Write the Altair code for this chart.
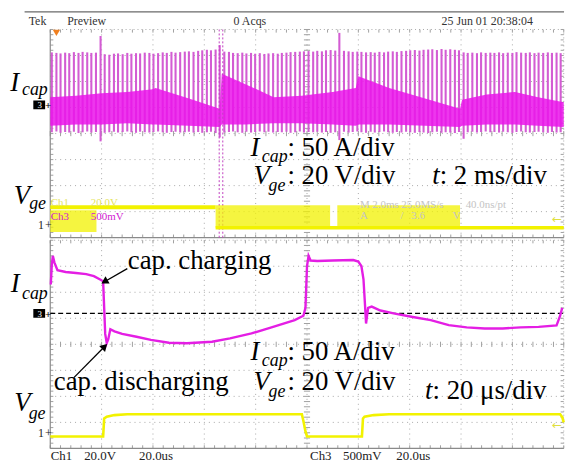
import math
import altair as alt
import pandas as pd

# ---------------- DATA (graticule divisions; y counted downward from each panel's top edge) ----------------
# Top panel, 2 ms/div: I_cap switching spikes
spike_x = [0.03, 0.12, 0.20, 0.29, 0.37, 0.46, 0.55, 0.63, 0.72, 0.80,
           0.89, 0.98, 1.06, 1.15, 1.24, 1.32, 1.41, 1.50, 1.58, 1.67,
           1.75, 1.84, 1.93, 2.01, 2.10, 2.19, 2.27, 2.36, 2.44, 2.53,
           2.62, 2.70, 2.79, 2.88, 2.96, 3.05, 3.13, 3.22, 3.30, 3.39,
           3.48, 3.56, 3.65, 3.74, 3.82, 3.91, 3.99, 4.08, 4.17, 4.25,
           4.34, 4.43, 4.51, 4.60, 4.68, 4.77, 4.86, 4.94, 5.03, 5.12,
           5.20, 5.29, 5.37, 5.46, 5.55, 5.63, 5.72, 5.81, 5.89, 5.98,
           6.06, 6.15, 6.24, 6.32, 6.41, 6.50, 6.58, 6.67, 6.75, 6.84,
           6.93, 7.01, 7.10, 7.19, 7.27, 7.36, 7.44, 7.53, 7.62, 7.70,
           7.79, 7.88, 7.96, 8.05, 8.13, 8.22, 8.31, 8.39, 8.48, 8.57,
           8.65, 8.74, 8.82, 8.91, 9.00, 9.08, 9.17, 9.26, 9.34, 9.43,
           9.51, 9.60, 9.69, 9.77, 9.86, 9.94]
spike_top = [0.88, 0.90, 0.92, 0.89, 0.91, 0.87, 0.90, 0.86, 0.88, 0.90,
             0.89, 0.25, 0.95, 0.97, 0.93, 0.92, 0.95, 0.90, 0.93, 0.91,
             0.92, 0.89, 0.90, 0.93, 0.91, 0.88, 0.90, 0.86, 0.89, 0.87,
             0.85, 0.84, 0.86, 0.82, 0.80, 0.78, 0.80, 0.77, 0.60, 0.85,
             0.86, 0.90, 0.91, 0.89, 0.92, 0.90, 0.93, 0.91, 0.94, 0.92,
             0.91, 0.93, 0.90, 0.89, 0.87, 0.86, 0.85, 0.84, 0.83, 0.85,
             0.82, 0.84, 0.80, 0.79, 0.81, 0.13, 0.82, 0.84, 0.86, 0.85,
             0.86, 0.88, 0.87, 0.89, 0.86, 0.88, 0.85, 0.84, 0.86, 0.83,
             0.82, 0.80, 0.79, 0.81, 0.78, 0.77, 0.76, 0.79, 0.75, 0.78,
             0.76, 0.78, 0.80, 0.88, 0.90, 0.89, 0.91, 0.88, 0.90, 0.89,
             0.90, 0.88, 0.91, 0.89, 0.90, 0.87, 0.89, 0.90, 0.88, 0.91,
             0.89, 0.90, 0.88, 0.90, 0.89, 0.91]
spike_bot = [3.95, 3.92, 3.97, 3.94, 3.96, 3.93, 3.98, 3.95, 3.92, 3.96,
             3.94, 4.30, 3.97, 3.95, 3.93, 3.96, 3.94, 3.92, 3.95, 3.97,
             3.93, 3.95, 3.96, 3.94, 3.92, 3.95, 3.97, 3.94, 3.93, 3.96,
             3.95, 3.93, 3.96, 3.94, 3.97, 3.95, 3.93, 3.98, 4.15, 3.96,
             3.94, 3.92, 3.95, 3.97, 3.93, 3.96, 3.94, 3.92, 3.95, 3.93,
             3.96, 3.94, 3.95, 3.93, 3.97, 3.95, 3.92, 3.96, 3.94, 3.95,
             3.93, 3.96, 3.94, 3.97, 3.95, 4.25, 3.93, 3.96, 3.94, 3.92,
             3.95, 3.97, 3.93, 3.96, 3.94, 3.92, 3.95, 3.97, 3.94, 3.96,
             3.93, 3.95, 3.97, 3.94, 3.96, 3.98, 3.95, 3.93, 3.97, 3.95,
             3.96, 3.98, 3.94, 4.20, 3.95, 3.93, 3.96, 3.94, 3.92, 3.95,
             3.94, 3.96, 3.93, 3.95, 3.97, 3.94, 3.92, 3.95, 3.96, 3.94,
             3.93, 3.95, 3.97, 3.94, 3.96, 3.95]

# Top panel: bright dense core of the I_cap trace
band_x = [0.0, 0.5, 1.0, 1.5, 2.0, 2.05, 2.7, 3.3, 3.34, 3.8, 4.35, 4.9, 5.5, 5.95, 6.0,
          6.6, 7.3, 7.98, 8.02, 8.5, 9.05, 9.5, 10.0]
band_hi = [2.6, 2.55, 2.45, 2.4, 2.3, 2.25, 2.65, 3.05, 1.7, 2.1, 2.6, 2.55, 2.4, 2.25, 1.8,
           2.25, 2.65, 3.05, 2.7, 2.5, 2.4, 2.6, 2.8]
band_lo = [3.7, 3.65, 3.65, 3.6, 3.65, 3.65, 3.7, 3.75, 3.65, 3.65, 3.6, 3.6, 3.65, 3.7, 3.65,
           3.65, 3.7, 3.75, 3.7, 3.65, 3.65, 3.7, 3.75]
cursor_x = [3.29, 3.36]

# Top panel: V_ge
vge_high_span = [0.0, 3.22]
vge_high_level = 6.83
vge_low_span = [3.22, 10.0]
vge_low_level = 7.62
burst_start = [0.0, 3.22, 5.59]
burst_end = [0.9, 5.45, 7.98]
burst_top = [6.95, 6.75, 6.75]
burst_bot = [7.78, 7.62, 7.62]

# Bottom panel, 20 us/div: I_cap
icap_x = [0.01, 0.03, 0.05, 0.08, 0.14, 0.3, 0.5, 0.7, 0.85, 0.98,
          1.03, 1.05, 1.07, 1.10, 1.13, 1.17, 1.25, 1.4, 1.68, 1.96,
          2.31, 2.66, 3.15, 3.5, 3.92, 4.34, 4.76, 4.93, 4.97, 5.0,
          5.03, 5.07, 5.2, 5.5, 5.9, 6.0, 6.06, 6.10, 6.13, 6.15,
          6.19, 6.26, 6.43, 6.71, 7.06, 7.41, 7.76, 8.11, 8.46, 8.81,
          9.16, 9.51, 9.86, 9.93, 9.97]
icap_y = [1.70, 0.95, 0.60, 0.85, 1.15, 1.22, 1.26, 1.30, 1.38, 1.52,
          1.58, 2.6, 3.6, 3.95, 3.8, 3.42, 3.5, 3.6, 3.71, 3.83,
          3.94, 3.96, 3.9, 3.77, 3.58, 3.33, 3.07, 2.9, 2.6, 1.0,
          0.6, 0.78, 0.8, 0.78, 0.76, 0.82, 1.0, 1.5, 2.5, 3.2,
          2.6, 2.55, 2.7, 2.82, 2.95, 3.07, 3.26, 3.35, 3.39, 3.39,
          3.35, 3.33, 3.27, 2.9, 2.6]
ground_level = 2.81

# Bottom panel: V_ge
vge2_x = [0.0, 1.03, 1.05, 1.1, 1.25, 1.5, 4.9, 4.93, 4.97, 5.0, 6.07, 6.09, 6.12, 6.3, 6.6,
          9.93, 9.97, 10.0]
vge2_y = [7.54, 7.54, 6.85, 6.78, 6.72, 6.69, 6.69, 6.95, 7.35, 7.54, 7.54, 6.85, 6.78, 6.72,
          6.69, 6.69, 6.8, 7.0]

# annotation arrows (bottom panel): tail -> tip
arrow_tail_x = [1.50, 0.46]
arrow_tail_y = [1.09, 5.28]
arrow_tip_x = [0.98, 1.12]
arrow_tip_y = [1.68, 3.96]

# ---------------- LAYOUT ----------------
PXX, PXY = 51.8, 26.25                       # pixels per division
XDOM = [-50.7 / PXX, (569 - 50.7) / PXX]
TOP_H, BOT_H = 238, 224
TOP_YDOM = [-27.7 / PXY, (TOP_H - 27.7) / PXY]
BOT_YDOM = [-1.3 / PXY, (BOT_H - 1.3) / PXY]

XS = alt.Scale(domain=XDOM, nice=False, zero=False)
TYS = alt.Scale(domain=TOP_YDOM, nice=False, zero=False, reverse=True)
BYS = alt.Scale(domain=BOT_YDOM, nice=False, zero=False, reverse=True)

SERIF = "Liberation Serif"
NARROW = "Liberation Sans Narrow"
YEL = "#f2f200"
MAG = "#e41ee4"


def X(f):
    return alt.X(f"{f}:Q", scale=XS, axis=None)


def Y(f, ys):
    return alt.Y(f"{f}:Q", scale=ys, axis=None)


def rules(rows, ys, **mk):
    df = pd.DataFrame(rows, columns=["x", "x2", "y", "y2"])
    return alt.Chart(df).mark_rule(**mk).encode(x=X("x"), x2="x2:Q", y=Y("y", ys), y2="y2:Q")


def texts(items, ys, **mk):
    df = pd.DataFrame(items, columns=["t", "x", "y"])
    opts = dict(align="left", baseline="alphabetic")
    opts.update(mk)
    return alt.Chart(df).mark_text(**opts).encode(x=X("x"), y=Y("y", ys), text="t:N")


def graticule(ys):
    major = [(v, v, 0, 8) for v in range(1, 10)] + [(0, 10, v, v) for v in range(1, 8)]
    ticks = []
    for i in range(51):
        t = round(i * 0.2, 2)
        ticks += [(t, t, 3.9, 4.1), (t, t, 0, 0.12), (t, t, 7.88, 8)]
    for i in range(41):
        t = round(i * 0.2, 2)
        ticks += [(4.94, 5.06, t, t), (0, 0.06, t, t), (9.94, 10, t, t)]
    return [
        rules(major, ys, color="#a8a8a8", strokeDash=[1, 4], strokeWidth=1),
        rules([(0, 10, 0, 0), (10, 10, 0, 8)], ys, color="#a8a8a8", strokeDash=[1, 3], strokeWidth=1),
        rules(ticks, ys, color="#a0a0a0", strokeWidth=1),
        rules([(0, 0, 0, 8), (0, 10, 8, 8)], ys, color="#8a8a8a", strokeWidth=1.2),
    ]


def markers(ys, box_y, one_y):
    box = pd.DataFrame({"x": [-0.33], "x2": [-0.10], "y": [box_y - 0.17], "y2": [box_y + 0.17]})
    return [
        alt.Chart(box).mark_rect(color="black").encode(x=X("x"), x2="x2:Q", y=Y("y", ys), y2="y2:Q"),
        texts([("3", -0.25, box_y + 0.13)], ys, font=NARROW, fontSize=9, color="white"),
        texts([("+", -0.10, box_y + 0.16)], ys, font=NARROW, fontSize=11, color="black", fontWeight="bold"),
        texts([("1", -0.24, one_y + 0.2), ("+", -0.10, one_y + 0.18)], ys, font=NARROW, fontSize=12, color="#222"),
    ]


def label_pair(ys, main, sub, x, y, xs, ys_off, size=27, subsize=18):
    return [
        texts([(main, x, y)], ys, font=SERIF, fontSize=size, fontStyle="italic", color="black"),
        texts([(sub, xs, y + ys_off)], ys, font=SERIF, fontSize=subsize, fontStyle="italic", color="black"),
    ]


# ---------------- TOP PANEL ----------------
spike_df = pd.DataFrame({"x": spike_x, "top": spike_top, "bot": spike_bot})
band_df = pd.DataFrame({"x": band_x, "hi": band_hi, "lo": band_lo})
burst_df = pd.DataFrame({"x": burst_start, "x2": burst_end, "y": burst_top, "y2": burst_bot})
cursor_df = pd.DataFrame({"x": cursor_x, "y": [0.0, 0.0], "y2": [8.0, 8.0]})

top_layers = graticule(TYS) + [
    rules([(-0.5, XDOM[1], -0.674, -0.674)], TYS, color="#6a6a6a", strokeWidth=1.2),
    texts([("Tek", -0.42, -0.18), ("Preview", 0.33, -0.18), ("0 Acqs", 3.57, -0.18),
           ("25 Jun 01 20:38:04", 7.62, -0.18)], TYS, font=NARROW, fontSize=12, color="#333"),
    alt.Chart(spike_df).mark_rule(color="#d35cd3", strokeWidth=2.1).encode(
        x=X("x"), y=Y("top", TYS), y2="bot:Q"),
    alt.Chart(band_df).mark_area(color="#ea14ea", opacity=0.85).encode(
        x=X("x"), y=Y("hi", TYS), y2="lo:Q"),
    alt.Chart(cursor_df).mark_rule(color="#c040c0", strokeDash=[2, 2], strokeWidth=1).encode(
        x=X("x"), y=Y("y", TYS), y2="y2:Q"),
    alt.Chart(burst_df).mark_rect(color=YEL, opacity=0.75).encode(
        x=X("x"), x2="x2:Q", y=Y("y", TYS), y2="y2:Q"),
    rules([(vge_high_span[0], vge_high_span[1], vge_high_level, vge_high_level)], TYS, color=YEL, strokeWidth=4),
    rules([(vge_low_span[0], vge_low_span[1], vge_low_level, vge_low_level)], TYS, color=YEL, strokeWidth=3.5),
    texts([("Ch1", 0.01, 6.79), ("20.0V", 0.79, 6.79)], TYS, font=NARROW, fontSize=11, color="#e4e45a"),
    texts([("Ch3", 0.01, 7.33), ("500mV", 0.79, 7.33)], TYS, font=NARROW, fontSize=11, color="#d020d0"),
    texts([("M 2.0ms 25.0MS/s", 6.03, 6.87), ("40.0ns/pt", 8.09, 6.87), ("A", 6.03, 7.29),
           ("/", 6.82, 7.29), ("3.6", 7.03, 7.29), ("V", 7.84, 7.29)], TYS,
          font=NARROW, fontSize=11, color="#c4c4c4"),
    texts([("←", 9.77, 7.45)], TYS, font="DejaVu Sans", fontSize=12, color="#e0e040"),
    alt.Chart(pd.DataFrame({"x": [0.12], "y": [0.13]})).mark_point(
        shape="triangle-down", filled=True, color="#f08020", size=55, opacity=1).encode(x=X("x"), y=Y("y", TYS)),
    texts([(": 50 A/div", 4.62, 4.85), (": 20 V/div", 4.62, 5.95), (": 2 ms/div", 7.585, 5.95)], TYS,
          font=SERIF, fontSize=27, color="black"),
    texts([("t", 7.44, 5.95)], TYS, font=SERIF, fontSize=27, fontStyle="italic", color="black"),
] + label_pair(TYS, "I", "cap", 3.90, 4.85, 4.12, 0.23) \
  + label_pair(TYS, "V", "ge", 3.96, 5.95, 4.25, 0.27) \
  + label_pair(TYS, "I", "cap", -0.78, 2.37, -0.55, 0.16) \
  + label_pair(TYS, "V", "ge", -0.71, 6.72, -0.41, 0.16) \
  + markers(TYS, 2.9, 7.48)

top = alt.layer(*top_layers).properties(width=569, height=TOP_H)

# ---------------- BOTTOM PANEL ----------------
icap_df = pd.DataFrame({"x": icap_x, "y": icap_y, "i": range(len(icap_x))})
vge2_df = pd.DataFrame({"x": vge2_x, "y": vge2_y, "i": range(len(vge2_x))})

heads = []
for tx, ty, hx, hy in zip(arrow_tail_x, arrow_tail_y, arrow_tip_x, arrow_tip_y):
    dx, dy = (hx - tx) * PXX, (hy - ty) * PXY
    L = math.hypot(dx, dy)
    ang = math.degrees(math.atan2(dx, -dy)) % 360
    back = 4.5 / L
    heads.append({"x": hx - (hx - tx) * back, "y": hy - (hy - ty) * back, "ang": ang,
                  "tx": tx, "ty": ty})
heads_df = pd.DataFrame(heads)

bot_layers = graticule(BYS) + [
    rules([(0, 10, ground_level, ground_level)], BYS, color="black", strokeDash=[5, 3], strokeWidth=1.3),
    alt.Chart(vge2_df).mark_line(color=YEL, strokeWidth=2.6).encode(x=X("x"), y=Y("y", BYS), order="i:Q"),
    alt.Chart(icap_df).mark_line(color=MAG, strokeWidth=2.4).encode(x=X("x"), y=Y("y", BYS), order="i:Q"),
    alt.Chart(heads_df).mark_rule(color="black", strokeWidth=1.3).encode(
        x=X("tx"), y=Y("ty", BYS), x2="x:Q", y2="y:Q"),
    alt.Chart(heads_df).mark_point(shape="triangle-up", filled=True, color="black", size=70, opacity=1).encode(
        x=X("x"), y=Y("y", BYS), angle=alt.Angle("ang:Q", scale=None)),
    texts([("cap. charging", 1.51, 1.09), ("cap. discharging", 0.07, 5.74),
           (": 50 A/div", 4.62, 4.6), (": 20 V/div", 4.62, 5.74), (": 20 μs/div", 7.445, 6.12)], BYS,
          font=SERIF, fontSize=27, color="black"),
    texts([("t", 7.30, 6.12)], BYS, font=SERIF, fontSize=27, fontStyle="italic", color="black"),
    texts([("Ch1", 0.01, 8.45), ("20.0V", 0.66, 8.45), ("20.0us", 1.73, 8.45),
           ("Ch3", 5.06, 8.45), ("500mV", 5.70, 8.45), ("20.0us", 6.74, 8.45)], BYS,
          font=NARROW, fontSize=13, color="#222"),
    texts([("←", 9.77, 7.25)], BYS, font="DejaVu Sans", fontSize=12, color="#e0e040"),
] + label_pair(BYS, "I", "cap", 3.90, 4.6, 4.12, 0.23) \
  + label_pair(BYS, "V", "ge", 3.96, 5.74, 4.25, 0.27) \
  + label_pair(BYS, "I", "cap", -0.77, 2.0, -0.55, 0.24) \
  + label_pair(BYS, "V", "ge", -0.70, 6.58, -0.42, 0.3) \
  + markers(BYS, 2.81, 7.38)

bot = alt.layer(*bot_layers).properties(width=569, height=BOT_H)

chart = alt.vconcat(top, bot, spacing=0).properties(
    padding=0, background="white"
).configure_view(stroke=None)

chart.save("out.html", embed_options={"renderer": "svg", "actions": False})
